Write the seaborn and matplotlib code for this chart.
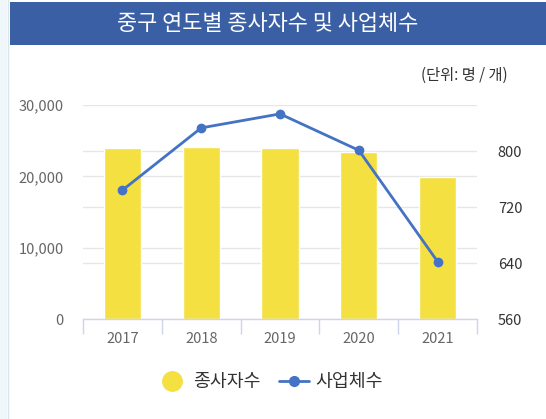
import matplotlib
matplotlib.use("Agg")
import matplotlib.pyplot as plt
from matplotlib.lines import Line2D
from matplotlib.patches import Rectangle
from matplotlib.ticker import FuncFormatter, FixedLocator
import seaborn as sns
import pandas as pd

years = ["2017", "2018", "2019", "2020", "2021"]
workers = [23970, 24110, 23970, 23410, 19910]      # 종사자수 (명)
businesses = [744, 833, 853, 801, 642]             # 사업체수 (개)

title = "중구 연도별 종사자수 및 사업체수"
unit_label = "(단위: 명 / 개)"
left_ticks = [0, 10000, 20000, 30000]
right_ticks = [560, 640, 720, 800]

BAR = "#F5E042"
LINE = "#4472C4"
HEADER = "#3A5FA5"
GRID = "#E6E6E6"
AXIS = "#CCD6EB"

sns.set_theme(style="white")
plt.rcParams["font.family"] = ["Noto Sans CJK KR", "DejaVu Sans"]

df = pd.DataFrame({"year": years, "workers": workers, "businesses": businesses})

fig = plt.figure(figsize=(5.46, 4.19), dpi=100)
fig.patch.set_facecolor("white")

# page frame: pale side strip and header band
fig.patches.append(Rectangle((0, 0), 7 / 546, 1, transform=fig.transFigure,
                             facecolor="#F0F7FB", edgecolor="none", zorder=0))
fig.add_artist(Line2D([7.5 / 546, 7.5 / 546], [0, 1], transform=fig.transFigure,
                      color="#DCE4EC", lw=1))
fig.patches.append(Rectangle((10 / 546, 1 - 45 / 419), 536 / 546, 43 / 419,
                             transform=fig.transFigure, facecolor=HEADER,
                             edgecolor="none", zorder=1))
fig.text(268 / 546, 1 - 23.5 / 419, title, color="white", fontsize=15.8,
         fontweight="medium", ha="center", va="center")
fig.text(508 / 546, 1 - 75 / 419, unit_label, color="#333333", fontsize=11,
         ha="right", va="center")

ax = fig.add_axes([83 / 546, 1 - 319 / 419, 394 / 546, 214 / 419])
sns.barplot(data=df, x="year", y="workers", color=BAR, width=0.47,
            saturation=1, ax=ax, zorder=2)
ax.set_ylim(0, 30000)
ax.set_xlim(-0.5, 4.5)
ax.set_yticks(left_ticks)
ax.yaxis.set_major_formatter(FuncFormatter(lambda v, p: f"{int(v):,}"))
ax.set_xlabel("")
ax.set_ylabel("")

ax2 = ax.twinx()
sns.pointplot(data=df, x="year", y="businesses", color=LINE, ax=ax2,
              markers="o", linewidth=2, markersize=5.5, zorder=5)
ax2.set_ylim(560, 560 + 214 / 0.7)
ax2.set_xlim(-0.5, 4.5)
ax2.set_yticks(right_ticks)
ax2.set_xlabel("")
ax2.set_ylabel("")

# shared horizontal grid from both scales
ax.set_axisbelow(True)
ax.yaxis.grid(True, color=GRID, lw=1)
for v in right_ticks[1:]:
    ax.axhline((v - 560) * 0.7 / 214 * 30000, color=GRID, lw=1, zorder=0)

for a in (ax, ax2):
    for s in a.spines.values():
        s.set_visible(False)
ax.spines["bottom"].set_visible(True)
ax.spines["bottom"].set_color(AXIS)
ax.spines["bottom"].set_linewidth(1)

ax.tick_params(axis="y", length=0, pad=14, labelsize=10.5, labelcolor="#666666")
ax2.tick_params(axis="y", length=0, pad=15, labelsize=10.5, labelcolor="#333333")
ax.tick_params(axis="x", which="major", bottom=True, length=0, pad=9,
               labelsize=10.5, labelcolor="#666666")
ax.xaxis.set_minor_locator(FixedLocator([-0.5, 0.5, 1.5, 2.5, 3.5, 4.5]))
ax.tick_params(axis="x", which="minor", bottom=True, length=11, width=1,
               color=AXIS)

handles = [
    Line2D([], [], marker="o", color=BAR, lw=0, markersize=14),
    Line2D([], [], marker="o", color=LINE, lw=2, markersize=7),
]
fig.legend(handles, ["종사자수", "사업체수"], loc="center",
           bbox_to_anchor=(270 / 546, 1 - 382 / 419), ncol=2, frameon=False,
           fontsize=13.2, handlelength=1.6, handletextpad=0.35, columnspacing=1.0,
           labelcolor="#333333")

fig.savefig("out.png", dpi=100)
